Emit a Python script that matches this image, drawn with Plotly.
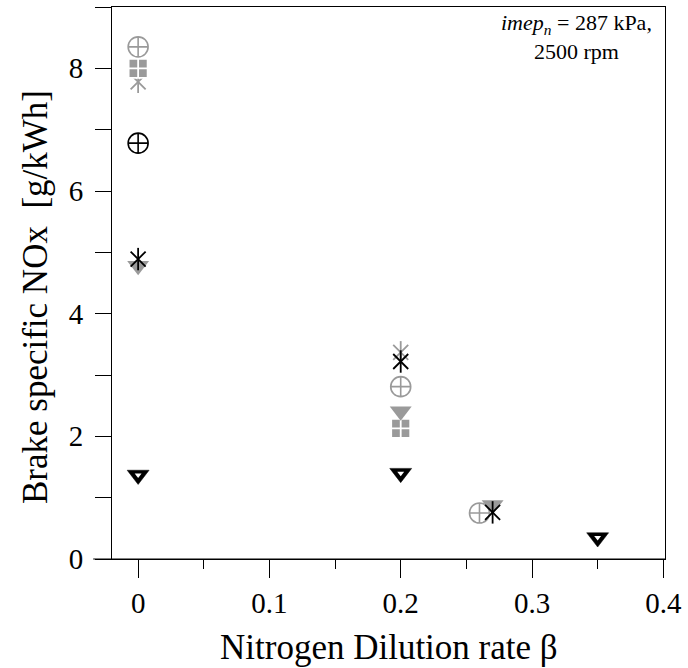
import plotly.graph_objects as go

# ---- data ----
black_circle_x = [0.0]
black_circle_y = [6.78]
black_asterisk_x = [0.0, 0.2, 0.27]
black_asterisk_y = [4.89, 3.22, 0.76]
black_tri_x = [0.0, 0.2, 0.35]
black_tri_y = [1.37, 1.40, 0.35]

gray_circle_x = [0.0, 0.2, 0.26]
gray_circle_y = [8.35, 2.81, 0.75]
gray_square_x = [0.0, 0.2]
gray_square_y = [8.0, 2.13]
gray_asterisk_x = [0.0, 0.2]
gray_asterisk_y = [7.78, 3.37]
gray_tri_x = [0.0, 0.2, 0.27]
gray_tri_y = [4.78, 2.41, 0.88]

x_ticks = [0, 0.1, 0.2, 0.3, 0.4]
x_ticklabels = ["0", "0.1", "0.2", "0.3", "0.4"]
y_ticks = [0, 2, 4, 6, 8]

GRAY = "#9a9a9a"
BLACK = "#000000"
FONT = "Liberation Serif"

fig = go.Figure()

def asterisk(x, y, color, size):
    fig.add_trace(go.Scatter(x=x, y=y, mode="markers", showlegend=False, hoverinfo="skip",
                             marker=dict(symbol="x-thin-open", size=size, color=color,
                                         line=dict(color=color, width=1.8))))
    fig.add_trace(go.Scatter(x=x, y=y, mode="markers", showlegend=False, hoverinfo="skip",
                             marker=dict(symbol="line-ns-open", size=size + 1, color=color,
                                         line=dict(color=color, width=1.8))))

# gray series
asterisk(gray_asterisk_x, gray_asterisk_y, GRAY, 15)
fig.add_trace(go.Scatter(x=gray_square_x, y=gray_square_y, mode="markers", showlegend=False,
                         marker=dict(symbol="square-cross", size=19, color=GRAY,
                                     line=dict(color="white", width=1.8))))
fig.add_trace(go.Scatter(x=gray_circle_x, y=gray_circle_y, mode="markers", showlegend=False,
                         marker=dict(symbol="circle-cross-open", size=20, color=GRAY,
                                     line=dict(color=GRAY, width=1.6))))
fig.add_trace(go.Scatter(x=gray_tri_x, y=gray_tri_y, mode="markers", showlegend=False,
                         marker=dict(symbol="triangle-down", size=19, color=GRAY,
                                     line=dict(color=GRAY, width=0))))
# black series
fig.add_trace(go.Scatter(x=black_circle_x, y=black_circle_y, mode="markers", showlegend=False,
                         marker=dict(symbol="circle-cross-open", size=20, color=BLACK,
                                     line=dict(color=BLACK, width=1.6))))
asterisk(black_asterisk_x, black_asterisk_y, BLACK, 15)
fig.add_trace(go.Scatter(x=black_tri_x, y=black_tri_y, mode="markers", showlegend=False,
                         marker=dict(symbol="triangle-down", size=19, color=BLACK,
                                     line=dict(color=BLACK, width=0.5))))
fig.add_trace(go.Scatter(x=black_tri_x, y=black_tri_y, mode="markers", showlegend=False,
                         hoverinfo="skip",
                         marker=dict(symbol="triangle-down", size=6, color="white",
                                     line=dict(width=0))))

fig.update_layout(
    width=688, height=668,
    margin=dict(l=112, r=18, t=6, b=109),
    plot_bgcolor="white", paper_bgcolor="white",
    font=dict(family=FONT, color="black"),
    showlegend=False,
    xaxis=dict(range=[-0.0199, 0.4013], tickvals=x_ticks, ticktext=x_ticklabels,
               ticks="outside", ticklen=18, tickwidth=1, tickcolor="black",
               minor=dict(dtick=0.05, tick0=0, ticks="outside", ticklen=9, tickcolor="black"),
               showline=True, linecolor="black", linewidth=1, mirror=True,
               showgrid=False, zeroline=False, tickfont=dict(size=29, family=FONT)),
    yaxis=dict(range=[0, 9.0], tickvals=y_ticks,
               ticks="outside", ticklen=16, tickwidth=1, tickcolor="black",
               minor=dict(dtick=1, tick0=0, ticks="outside", ticklen=16, tickcolor="black"),
               showline=True, linecolor="black", linewidth=1, mirror=True,
               showgrid=False, zeroline=False, tickfont=dict(size=29, family=FONT),
               ticklabelstandoff=6),
)

# bottom axis line extends left of the frame
fig.add_shape(type="line", xref="paper", yref="paper", x0=-0.034, x1=1, y0=0, y1=0,
              line=dict(color="black", width=1))

fig.add_annotation(xref="paper", yref="paper", x=-0.138, y=0.474, text="Brake specific NOx&nbsp; [g/kWh]",
                   textangle=-90, showarrow=False, font=dict(size=35, family=FONT),
                   xanchor="center", yanchor="middle")
fig.add_annotation(xref="paper", yref="paper", x=0.5, y=-0.161, text="Nitrogen Dilution rate β",
                   showarrow=False, font=dict(size=35, family=FONT),
                   xanchor="center", yanchor="middle")
fig.add_annotation(xref="paper", yref="paper", x=0.84, y=1.0, yshift=-1,
                   text="<i>imep</i><sub><i>n</i></sub> = 287 kPa,<br>2500 rpm",
                   showarrow=False, align="center", font=dict(size=22, family=FONT),
                   xanchor="center", yanchor="top")

fig.write_html("out.html")
